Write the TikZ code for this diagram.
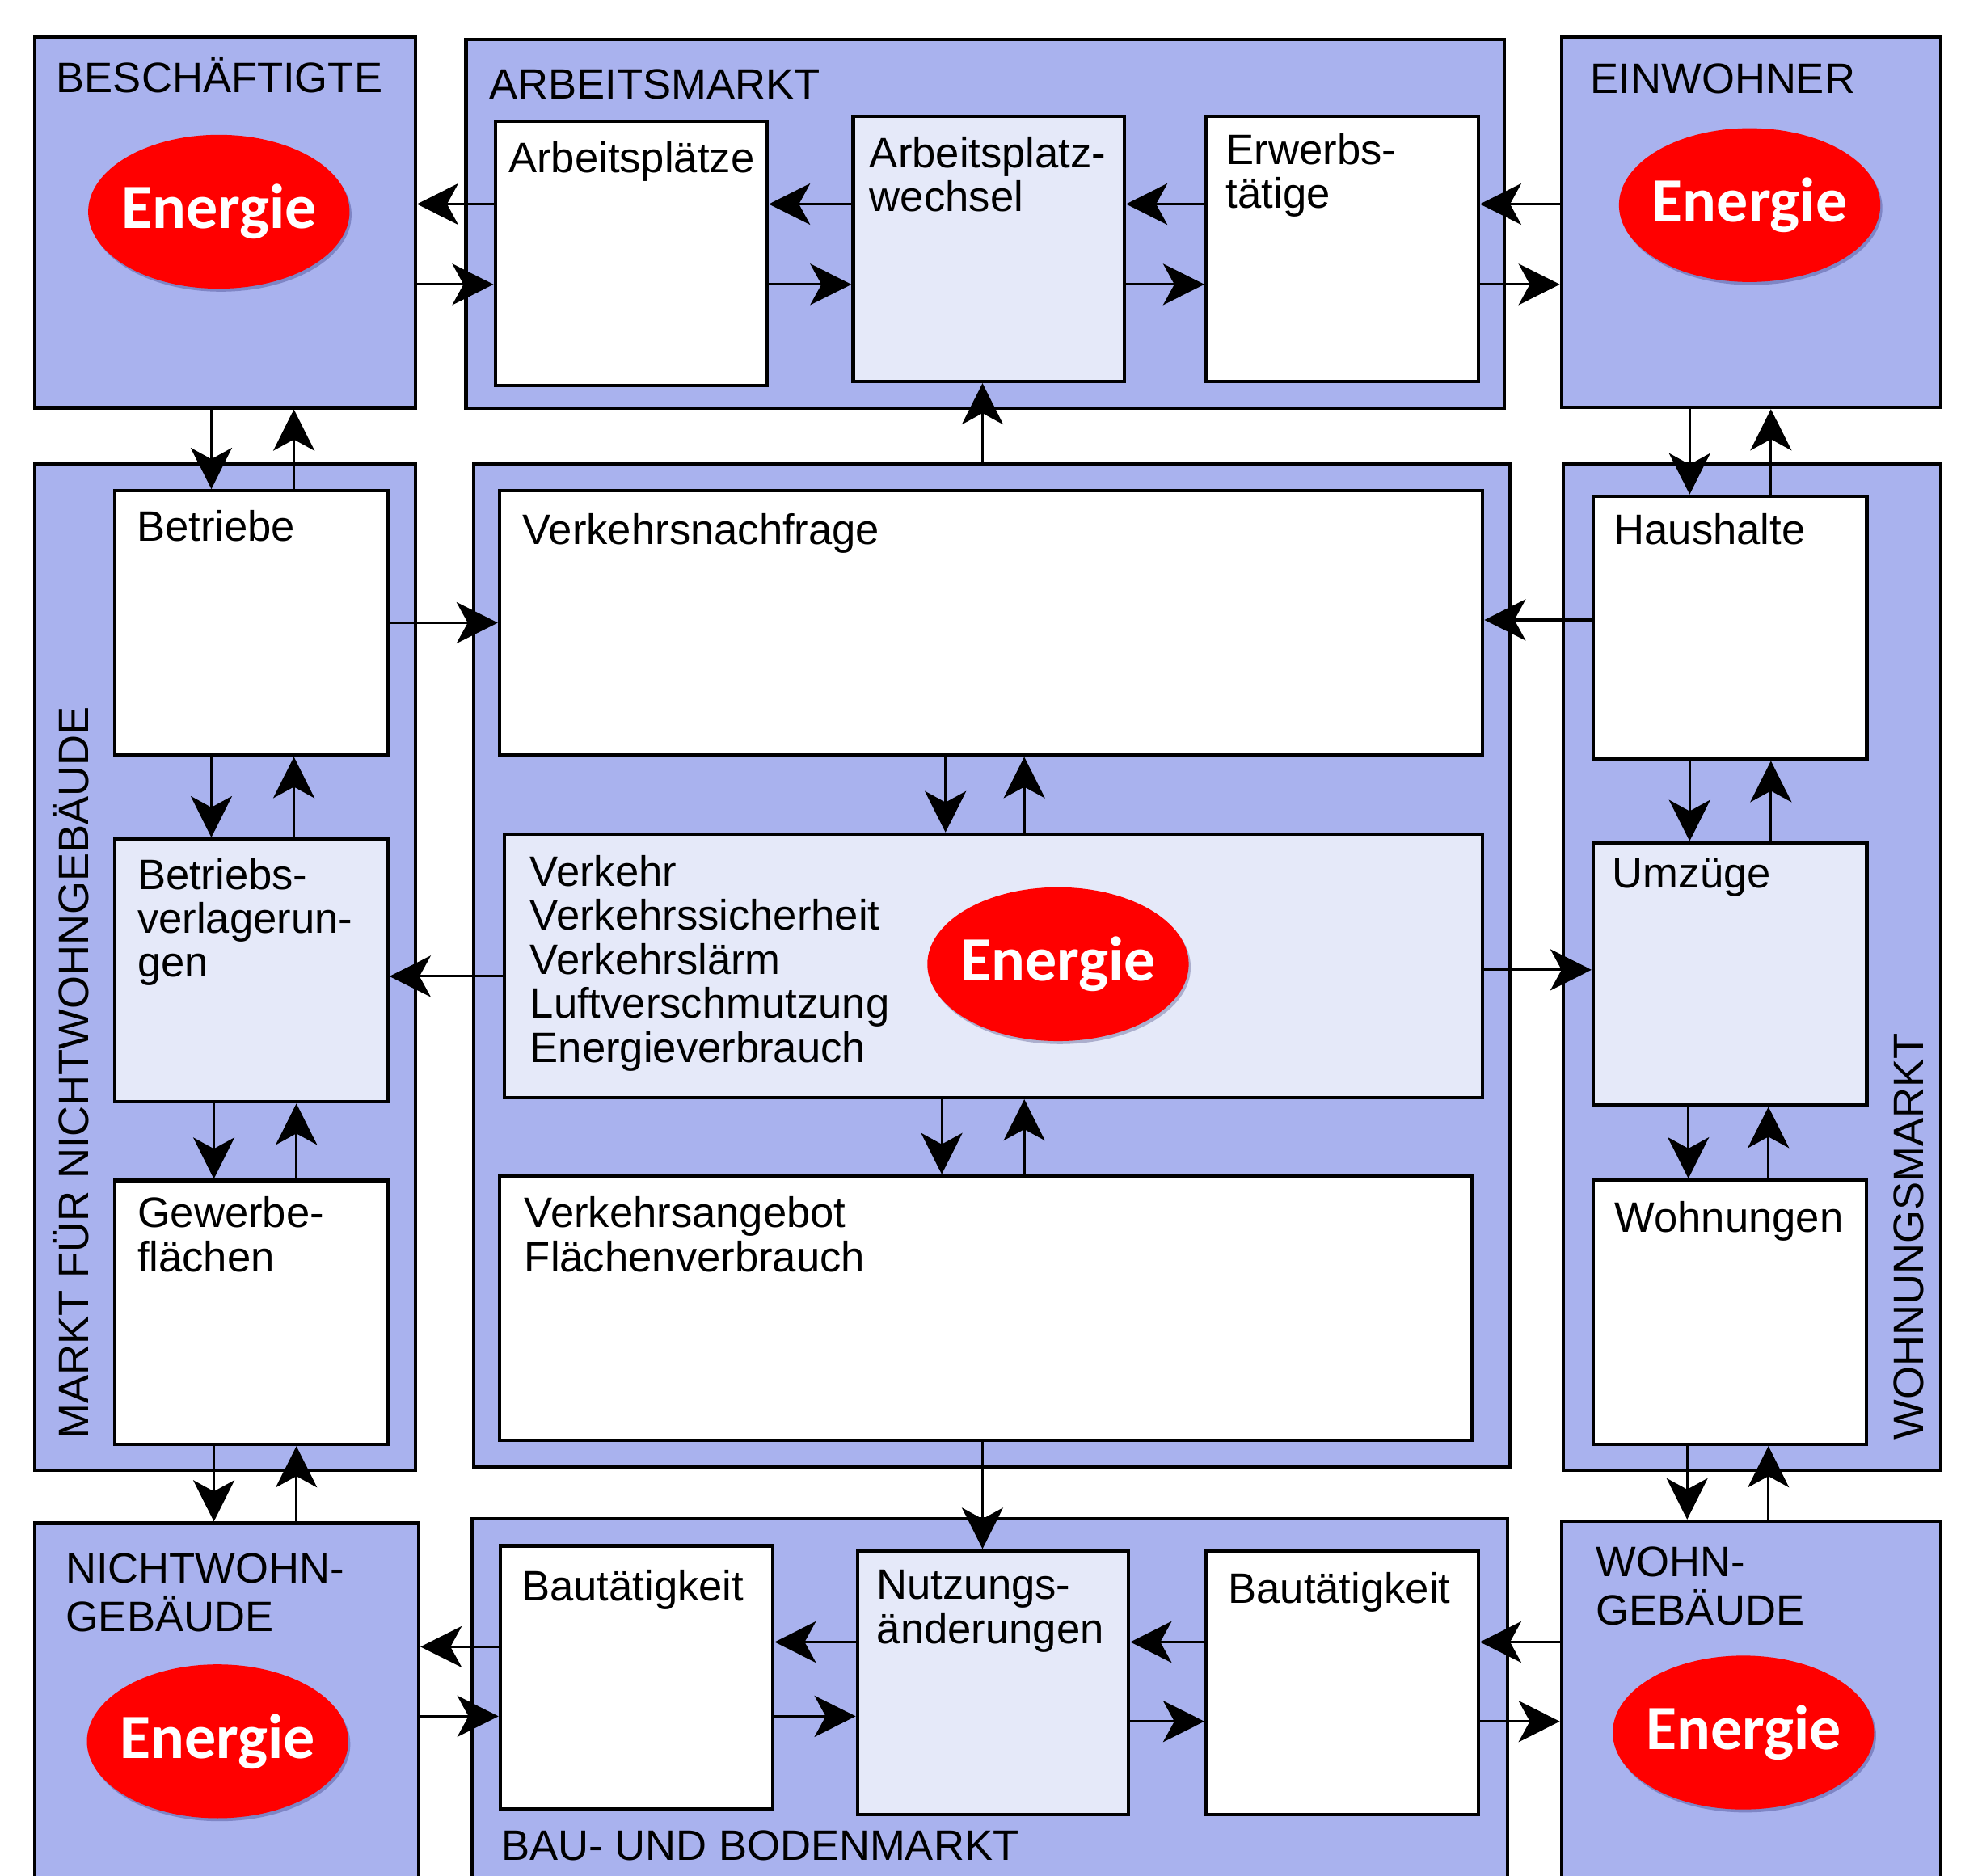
\documentclass[tikz,border=0pt]{standalone}
\usepackage{fontspec}
\setmainfont{Liberation Sans}
\newfontfamily\enfont{Carlito}
\usetikzlibrary{arrows.meta,shapes.geometric,shadows}

\definecolor{mblue}{RGB}{169,178,238}
\definecolor{mlight}{RGB}{229,233,249}
\definecolor{mred}{RGB}{255,0,0}

\newcommand\ml[1]{\begin{tabular}[t]{@{}l@{}}#1\end{tabular}}
\newcommand\mkbox[6]{\node[#2, minimum width={(#5-#3)*0.5pt}, minimum height={(#6-#4)*0.5pt}] (#1) at ({(#3+#5)/2},{(#4+#6)/2}) {};}

\tikzset{
  outerbox/.style={draw=black, line width=1.4pt, fill=mblue, inner sep=0pt},
  whitebox/.style={draw=black, line width=1.4pt, fill=white, inner sep=0pt},
  lightbox/.style={draw=black, line width=1.4pt, fill=mlight, inner sep=0pt},
  lbl/.style={inner sep=0pt, anchor=base west, font=\fontsize{17}{17.6}\selectfont},
  arr/.style={line width=1pt, -{Stealth[length=16.5pt,width=16.5pt,inset=4.5pt]}},
  energie/.style={ellipse, fill=mred, inner sep=0pt, minimum width=104.5pt, minimum height=61.5pt,
    text=white, font=\enfont\bfseries\fontsize{25.2}{30}\selectfont,
    drop shadow={shadow xshift=0.8pt, shadow yshift=-1.2pt, opacity=0.25, fill=black!70!blue}},
}

\begin{document}
\begin{tikzpicture}[x=0.5pt, y=-0.5pt]
\useasboundingbox (0,0) rectangle (1568,1500);
\fill[white] (0,0) rectangle (1568,1500);
\clip (0,0) rectangle (1568,1500);

% outer boxes
\mkbox{besch}{outerbox}{28}{29.5}{332}{326}
\mkbox{am}{outerbox}{372.5}{31.7}{1202.7}{326.5}
\mkbox{einw}{outerbox}{1248.6}{29.5}{1552}{325.8}
\mkbox{mnwg}{outerbox}{28}{371}{332}{1175.5}
\mkbox{ctr}{outerbox}{378.6}{371}{1207}{1173}
\mkbox{wm}{outerbox}{1250}{371}{1552}{1175.8}
\mkbox{nwg}{outerbox}{28}{1218}{334.8}{1540}
\mkbox{bau}{outerbox}{377.5}{1214.6}{1205.6}{1540}
\mkbox{wg}{outerbox}{1248.6}{1216.4}{1552}{1540}

% inner boxes
\mkbox{ap}{whitebox}{396}{97}{613.4}{308.3}
\mkbox{apw}{lightbox}{682.2}{93}{899}{305}
\mkbox{erw}{whitebox}{964.4}{93}{1182}{305}
\mkbox{betr}{whitebox}{91.8}{392.5}{310}{603.8}
\mkbox{bverl}{lightbox}{91.8}{671}{310}{881}
\mkbox{gew}{whitebox}{91.8}{944}{310}{1155}
\mkbox{vn}{whitebox}{399.4}{392.4}{1185.5}{603.8}
\mkbox{vk}{lightbox}{403.4}{667}{1185.5}{877.6}
\mkbox{va}{whitebox}{399.5}{940.4}{1176.8}{1151.7}
\mkbox{hh}{whitebox}{1274}{396.8}{1492.6}{607}
\mkbox{umz}{lightbox}{1274}{674}{1492.6}{883.6}
\mkbox{wohn}{whitebox}{1274}{943.8}{1492.3}{1155}
\mkbox{bl}{whitebox}{400}{1236}{618}{1446.6}
\mkbox{nutz}{lightbox}{685.6}{1240}{902.4}{1450.8}
\mkbox{br}{whitebox}{964.4}{1240}{1182}{1450.8}

% labels
\node[lbl] (tbesch) at (44.7,73.7) {BESCHÄFTIGTE};
\node[lbl] (tam) at (391,79.4) {ARBEITSMARKT};
\node[lbl] (teinw) at (1271.4,74.8) {EINWOHNER};
\node[lbl] (tap) at (406.3,138.3) {Arbeitsplätze};
\node[lbl] (tapw) at (695,133.8) {\ml{Arbeitsplatz-\\wechsel}};
\node[lbl] (terw) at (980,131.5) {\ml{Erwerbs-\\tätige}};
\node[lbl] (tbetr) at (109,432.8) {Betriebe};
\node[lbl] (tbverl) at (109.5,711) {\ml{Betriebs-\\verlagerun-\\gen}};
\node[lbl] (tgew) at (109.5,981.6) {\ml{Gewerbe-\\flächen}};
\node[lbl] (tvn) at (417.6,435.4) {Verkehrsnachfrage};
\node[lbl] (tvk) at (423.5,708.5) {\ml{Verkehr\\Verkehrssicherheit\\Verkehrslärm\\Luftverschmutzung\\Energieverbrauch}};
\node[lbl] (tva) at (419,981.7) {\ml{Verkehrsangebot\\Flächenverbrauch}};
\node[lbl] (thh) at (1290,435.4) {Haushalte};
\node[lbl] (tumz) at (1289,710) {Umzüge};
\node[lbl] (twohn) at (1290.8,985) {Wohnungen};
\node[lbl] (tnwg) at (52,1265.7) {\ml{NICHTWOHN-\\GEBÄUDE}};
\node[lbl] (tbl) at (416.7,1280) {Bautätigkeit};
\node[lbl] (tnutz) at (700.7,1279) {\ml{Nutzungs-\\änderungen}};
\node[lbl] (tbr) at (981.7,1282) {Bautätigkeit};
\node[lbl] (twg) at (1276,1260.6) {\ml{WOHN-\\GEBÄUDE}};
\node[lbl] (tbau) at (400.5,1487.8) {BAU- UND BODENMARKT};
\node[lbl, rotate=90] (tmnwg) at (70.6,1151) {MARKT FÜR NICHTWOHNGEBÄUDE};
\node[lbl, rotate=90] (twm) at (1538,1151.7) {WOHNUNGSMARKT};

% Energie ellipses
\node[energie] (e1) at (175,169.3) {\makebox[0pt]{Energie}};
\node[energie] (e2) at (1399,164) {\makebox[0pt]{Energie}};
\node[energie] (e3) at (846,771) {\makebox[0pt]{Energie}};
\node[energie] (e4) at (174,1392.4) {\makebox[0pt]{Energie}};
\node[energie] (e5) at (1394,1385.4) {\makebox[0pt]{Energie}};

% top row arrows
\draw[arr] (ap.west |- 0,163.2) -- (besch.east |- 0,163.2);
\draw[arr] (besch.east |- 0,227.4) -- (ap.west |- 0,227.4);
\draw[arr] (apw.west |- 0,163.2) -- (ap.east |- 0,163.2);
\draw[arr] (ap.east |- 0,227.4) -- (apw.west |- 0,227.4);
\draw[arr] (erw.west |- 0,163.2) -- (apw.east |- 0,163.2);
\draw[arr] (apw.east |- 0,227.4) -- (erw.west |- 0,227.4);
\draw[arr] (einw.west |- 0,163.2) -- (erw.east |- 0,163.2);
\draw[arr] (erw.east |- 0,227.4) -- (einw.west |- 0,227.4);

% left column arrows
\draw[arr] (besch.south -| 169,0) -- (betr.north -| 169,0);
\draw[arr] (betr.north -| 235,0) -- (besch.south -| 235,0);
\draw[arr] (betr.south -| 169,0) -- (bverl.north -| 169,0);
\draw[arr] (bverl.north -| 235,0) -- (betr.south -| 235,0);
\draw[arr] (bverl.south -| 171,0) -- (gew.north -| 171,0);
\draw[arr] (gew.north -| 237,0) -- (bverl.south -| 237,0);
\draw[arr] (gew.south -| 171,0) -- (nwg.north -| 171,0);
\draw[arr] (nwg.north -| 237,0) -- (gew.south -| 237,0);

% right column arrows
\draw[arr] (einw.south -| 1351,0) -- (hh.north -| 1351,0);
\draw[arr] (hh.north -| 1416,0) -- (einw.south -| 1416,0);
\draw[arr] (hh.south -| 1351,0) -- (umz.north -| 1351,0);
\draw[arr] (umz.north -| 1416,0) -- (hh.south -| 1416,0);
\draw[arr] (umz.south -| 1350,0) -- (wohn.north -| 1350,0);
\draw[arr] (wohn.north -| 1414,0) -- (umz.south -| 1414,0);
\draw[arr] (wohn.south -| 1349,0) -- (wg.north -| 1349,0);
\draw[arr] (wg.north -| 1414,0) -- (wohn.south -| 1414,0);

% centre arrows
\draw[arr] (vn.south -| 756,0) -- (vk.north -| 756,0);
\draw[arr] (vk.north -| 819,0) -- (vn.south -| 819,0);
\draw[arr] (vk.south -| 753,0) -- (va.north -| 753,0);
\draw[arr] (va.north -| 819,0) -- (vk.south -| 819,0);
\draw[arr] (ctr.north -| 785.6,0) -- (apw.south -| 785.6,0);
\draw[arr, line width=0.7pt] (va.south -| 785.6,0) -- (nutz.north -| 785.6,0);

% centre horizontal arrows
\draw[arr] (betr.east |- 0,498) -- (vn.west |- 0,498);
\draw[arr] (hh.west |- 0,495.7) -- (vn.east |- 0,495.7);
\draw[arr] (vk.west |- 0,780.7) -- (bverl.east |- 0,780.7);
\draw[arr] (vk.east |- 0,775.5) -- (umz.west |- 0,775.5);

% bottom row arrows
\draw[arr] (bl.west |- 0,1316.8) -- (nwg.east |- 0,1316.8);
\draw[arr] (nwg.east |- 0,1372.4) -- (bl.west |- 0,1372.4);
\draw[arr] (nutz.west |- 0,1313) -- (bl.east |- 0,1313);
\draw[arr] (bl.east |- 0,1372.4) -- (nutz.west |- 0,1372.4);
\draw[arr] (br.west |- 0,1313) -- (nutz.east |- 0,1313);
\draw[arr] (nutz.east |- 0,1376.5) -- (br.west |- 0,1376.5);
\draw[arr] (wg.west |- 0,1313) -- (br.east |- 0,1313);
\draw[arr] (br.east |- 0,1376.5) -- (wg.west |- 0,1376.5);
\end{tikzpicture}
\end{document}
